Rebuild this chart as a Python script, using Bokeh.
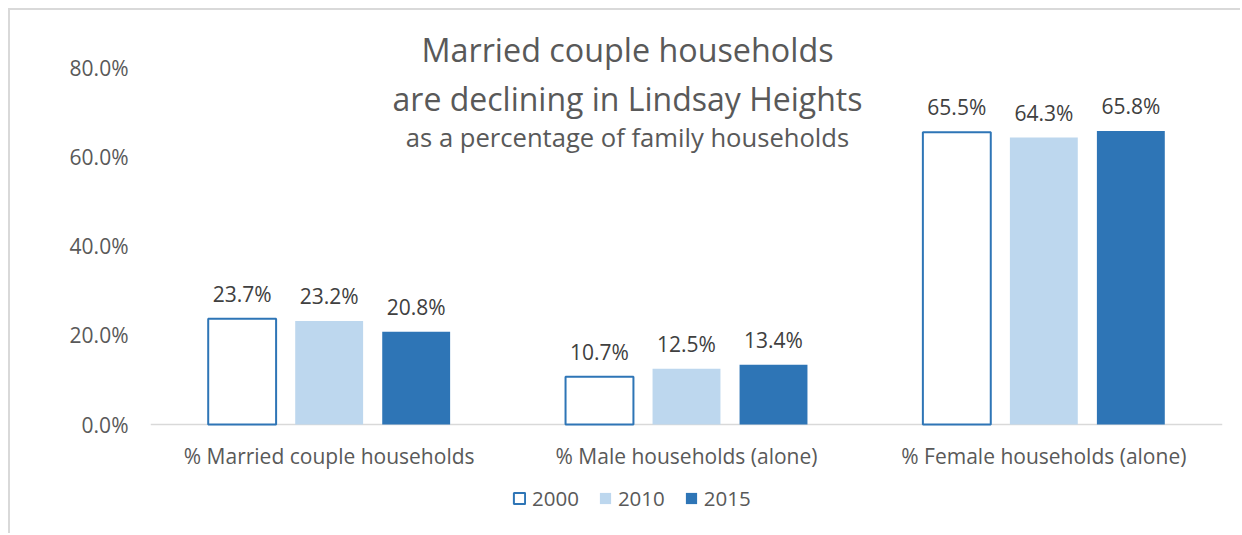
from bokeh.plotting import figure
from bokeh.models import (ColumnDataSource, Range1d, FixedTicker, PrintfTickFormatter,
                          LabelSet, Label, Legend, LegendItem)
from bokeh.transform import dodge
from bokeh.core.properties import value
from bokeh.embed import file_html
from bokeh.resources import INLINE

categories = ["% Married couple households", "% Male households (alone)", "% Female households (alone)"]
years = ["2000", "2010", "2015"]
values_2000 = [23.7, 10.7, 65.5]
values_2010 = [23.2, 12.5, 64.3]
values_2015 = [20.8, 13.4, 65.8]
y_ticks = [0, 20, 40, 60, 80]
title_lines = ["Married couple households", "are declining in Lindsay Heights",
               "as a percentage of family households"]

FONT = "Open Sans"
GRAY = "#595959"
DARK = "#404040"
BLUE = "#2E75B6"
LIGHT = "#BDD7EE"

# frame spans the plot area horizontally and nearly the whole canvas vertically
p = figure(x_range=categories, y_range=Range1d(-24.87, 92.33), width=1232, height=525,
           output_backend="svg", toolbar_location=None, x_axis_location=None,
           min_border_left=140, min_border_right=20, min_border_top=2, min_border_bottom=0)
p.styles = {"margin-left": "8px", "margin-top": "8px",
            "border-top": "2px solid #d9d9d9", "border-left": "2px solid #d9d9d9"}
p.outline_line_color = None
p.xgrid.grid_line_color = None
p.ygrid.grid_line_color = None
p.background_fill_color = "white"
p.border_fill_color = "white"

# category baseline
p.hspan(y=[0], line_color="#d9d9d9", line_width=1.5)

series = [values_2000, values_2010, values_2015]
offsets = [-0.2435, 0.0, 0.2435]
fills = ["white", LIGHT, BLUE]
lines = [BLUE, None, None]
items = []
for yr, vals, off, fc, lc in zip(years, series, offsets, fills, lines):
    src = ColumnDataSource(dict(cat=categories, val=vals, lab=["%.1f%%" % v for v in vals]))
    r = p.vbar(x=dodge("cat", off, range=p.x_range), top="val", width=0.19, source=src,
               fill_color=fc, line_color=lc, line_width=2 if lc else 0)
    items.append(LegendItem(label=yr, renderers=[r]))
    p.add_layout(LabelSet(x=dodge("cat", off, range=p.x_range), y="val", text="lab", source=src,
                          text_align="center", text_baseline="alphabetic", y_offset=17,
                          text_font=value(FONT), text_font_size="21px", text_color=DARK))

# category labels under the baseline
cat_src = ColumnDataSource(dict(cat=categories, y=[0] * len(categories)))
p.add_layout(LabelSet(x="cat", y="y", text="cat", source=cat_src, y_offset=-39,
                      text_align="center", text_baseline="alphabetic",
                      text_font=value(FONT), text_font_size="21px", text_color=GRAY))

# y axis
p.yaxis.ticker = FixedTicker(ticks=y_ticks)
p.yaxis.formatter = PrintfTickFormatter(format="%.1f%%")
p.yaxis.axis_line_color = None
p.yaxis.major_tick_line_color = None
p.yaxis.minor_tick_line_color = None
p.yaxis.major_tick_out = 0
p.yaxis.major_tick_in = 0
p.yaxis.major_label_standoff = 22
p.yaxis.major_label_text_font = FONT
p.yaxis.major_label_text_font_size = "21px"
p.yaxis.major_label_text_color = GRAY

# title
for txt, yv, fs in zip(title_lines, [84.1, 72.99, 64.3], ["32.3px", "32px", "25.6px"]):
    p.add_layout(Label(x=477, y=yv, x_units="screen", y_units="data", text=txt,
                       text_align="center", text_baseline="alphabetic",
                       text_font=FONT, text_font_size=fs, text_color=GRAY))

legend = Legend(items=items, orientation="horizontal", location=(362, 23),
                label_text_font=FONT, label_text_font_size="20.5px", label_text_color=GRAY,
                glyph_width=14, glyph_height=14, label_standoff=6, spacing=19,
                padding=0, margin=0, border_line_color=None, background_fill_alpha=0)
p.add_layout(legend)

open("out.html", "w").write(file_html(p, INLINE))
